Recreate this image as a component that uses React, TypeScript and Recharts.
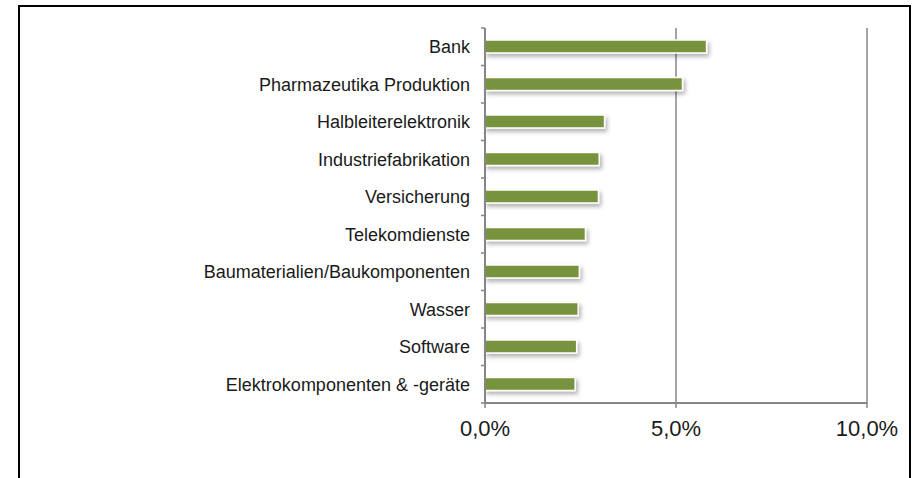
import { BarChart, Bar, XAxis, YAxis, CartesianGrid } from "recharts";

const categories = [
  "Bank",
  "Pharmazeutika Produktion",
  "Halbleiterelektronik",
  "Industriefabrikation",
  "Versicherung",
  "Telekomdienste",
  "Baumaterialien/Baukomponenten",
  "Wasser",
  "Software",
  "Elektrokomponenten & -geräte",
];
const values = [5.8, 5.17, 3.13, 2.99, 2.97, 2.63, 2.47, 2.44, 2.4, 2.36];
const xTicks = [0, 5, 10];

const data = categories.map((name, i) => ({ name, value: values[i] }));

const AXIS = "#868686";
const TEXT = "#1a1a1a";
const FONT = "'Liberation Sans', Arial, sans-serif";
const TICK_SIZE = 0;
const TICK_MARGIN = 15;

// category label plus small boundary ticks (between categories, like Excel)
function CatTick(props: any) {
  const { x, y, payload, index, visibleTicksCount, height } = props;
  const band = height / visibleTicksCount;
  const ax = x + TICK_SIZE + TICK_MARGIN;
  const top = y - band / 2;
  return (
    <g>
      <line x1={ax - 4} x2={ax} y1={top} y2={top} stroke={AXIS} strokeWidth={1.5} />
      {index === visibleTicksCount - 1 && (
        <line x1={ax - 4} x2={ax} y1={top + band} y2={top + band} stroke={AXIS} strokeWidth={1.5} />
      )}
      <text x={x} y={y} dy="0.35em" textAnchor="end" fontSize={18} fill={TEXT} fontFamily={FONT}>
        {payload.value}
      </text>
    </g>
  );
}

export default function App() {
  return (
    <div>
      <svg width={0} height={0} style={{ position: "absolute" }}>
        <defs>
          <filter id="barShadow" x="-10%" y="-50%" width="130%" height="250%">
            <feDropShadow dx={2} dy={3} stdDeviation={2} floodColor="#000" floodOpacity={0.3} />
          </filter>
        </defs>
      </svg>
      <div
        style={{
          position: "absolute",
          left: 18,
          top: 5,
          width: 889,
          height: 480,
          border: "2px solid #000",
          background: "#fff",
        }}
      >
        <BarChart
          width={889}
          height={471}
          data={data}
          layout="vertical"
          margin={{ top: 21, right: 42, bottom: 35, left: 0 }}
          barCategoryGap={0}
        >
          <CartesianGrid horizontal={false} vertical={true} stroke={AXIS} strokeWidth={1.5} />
          <XAxis
            type="number"
            domain={[0, 10]}
            ticks={xTicks}
            tickFormatter={(v: number) => v.toFixed(1).replace(".", ",") + "%"}
            height={40}
            tickSize={5}
            tickMargin={12}
            tick={{ fontSize: 22, fill: TEXT, fontFamily: FONT }}
            axisLine={{ stroke: AXIS, strokeWidth: 2 }}
            tickLine={{ stroke: AXIS, strokeWidth: 1.5 }}
          />
          <YAxis
            type="category"
            dataKey="name"
            width={465}
            tickSize={TICK_SIZE}
            tickMargin={TICK_MARGIN}
            tickLine={false}
            interval={0}
            tick={<CatTick />}
            axisLine={{ stroke: AXIS, strokeWidth: 2 }}
          />
          <Bar
            dataKey="value"
            barSize={13}
            fill="#77933C"
            stroke="#fff"
            strokeWidth={1.5}
            style={{ filter: "url(#barShadow)" }}
            isAnimationActive={false}
          />
        </BarChart>
      </div>
    </div>
  );
}
